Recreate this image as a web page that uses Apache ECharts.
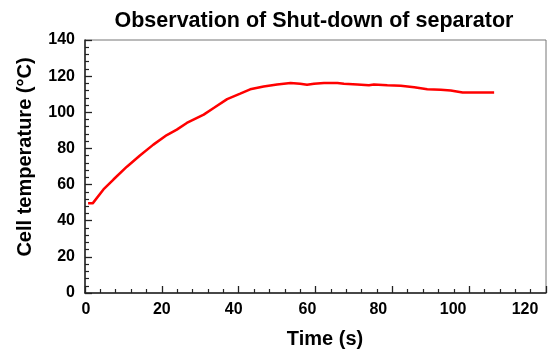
<!DOCTYPE html>
<html>
<head>
<meta charset="utf-8">
<script src="https://cdn.jsdelivr.net/npm/echarts@6/dist/echarts.min.js"></script>
<style>
  html, body { margin: 0; padding: 0; background: #fff; }
  #chart { width: 551px; height: 354px; }
</style>
</head>
<body>
<div id="chart"></div>
<script>
// Cell temperature during the separator shut-down test
const timeSec = [0.8, 2, 4.8, 7.4, 10.9, 14.3, 17.8, 21.3, 23.9, 26.5, 30.9, 33.5, 37, 40.4, 43, 46.5,
  50, 53.5, 56, 57.8, 59.6, 62.2, 65.7, 67.4, 70.9, 73.9, 75.2, 78.7, 82.2, 85.7, 89.1, 92.6, 95.2,
  98.3, 101.3, 106.5];
const cellTemp = [49.6, 49.6, 57.3, 62.8, 69.9, 76.1, 82.1, 87.4, 90.4, 94.1, 98.7, 102.4, 107.3, 110.3,
  112.7, 114.3, 115.4, 116.2, 115.8, 115.2, 115.8, 116.2, 116.2, 115.8, 115.4, 115.0, 115.4, 115.0,
  114.7, 113.9, 112.8, 112.5, 112.1, 111.0, 111.0, 111.0];
const xTicks = [0, 20, 40, 60, 80, 100, 120];
const yTicks = [0, 20, 40, 60, 80, 100, 120, 140];

// horizontal nudge (px, negative = left) for each time label
const xLabelNudge = { 0: 1, 20: 0, 40: -5, 60: -8, 80: -14, 100: -16, 120: -21 };

const FONT = '"Liberation Sans", Arial, Helvetica, sans-serif';
const labelRich = {};
xTicks.forEach(v => {
  const d = xLabelNudge[v] || 0;
  labelRich['t' + v] = {
    fontFamily: FONT, fontSize: 16, fontWeight: 'bold', color: '#000',
    padding: d < 0 ? [0, -2 * d, 0, 0] : [0, 0, 0, 2 * d]
  };
});

const chart = echarts.init(document.getElementById('chart'), null, { renderer: 'canvas' });
chart.setOption({
  backgroundColor: '#fff',
  animation: false,
  title: {
    text: 'Observation of Shut-down of separator',
    left: 309,
    top: 5,
    textAlign: 'center',
    textStyle: { fontFamily: FONT, fontSize: 21.5, fontWeight: 'bold', color: '#000' }
  },
  grid: {
    left: 85, top: 40, right: 5, bottom: 60,
    show: true, borderColor: '#777', borderWidth: 1
  },
  xAxis: {
    type: 'value',
    min: xTicks[0], max: xTicks[xTicks.length - 1], interval: 20,
    name: 'Time (s)',
    nameLocation: 'middle',
    nameGap: 36,
    nameTextStyle: { fontFamily: FONT, fontSize: 20, fontWeight: 'bold', color: '#000', padding: [0, 0, 0, 19] },
    axisLine: { onZero: false, lineStyle: { color: '#222', width: 1.5 } },
    axisTick: { inside: true, length: 7, lineStyle: { color: '#222', width: 1.3 } },
    minorTick: { show: true, splitNumber: 5, length: 4, lineStyle: { color: '#222', width: 1.2 } },
    splitLine: { show: false },
    axisLabel: {
      margin: 9,
      formatter: v => '{t' + v + '|' + v + '}',
      rich: labelRich
    }
  },
  yAxis: {
    type: 'value',
    min: yTicks[0], max: yTicks[yTicks.length - 1], interval: 20,
    name: 'Cell temperature (°C)',
    nameLocation: 'middle',
    nameGap: 50,
    nameTextStyle: { fontFamily: FONT, fontSize: 20, fontWeight: 'bold', color: '#000', padding: [0, 0, 0, 19] },
    axisLine: { onZero: false, lineStyle: { color: '#222', width: 1.5 } },
    axisTick: { inside: true, length: 7, lineStyle: { color: '#222', width: 1.3 } },
    minorTick: { show: true, splitNumber: 5, length: 4, lineStyle: { color: '#222', width: 1.2 } },
    splitLine: { show: false },
    axisLabel: { margin: 10, fontFamily: FONT, fontSize: 16, fontWeight: 'bold', color: '#000' }
  },
  series: [{
    type: 'line',
    data: timeSec.map((t, i) => [t, cellTemp[i]]),
    showSymbol: false,
    smooth: false,
    lineStyle: { color: '#ff0000', width: 2.5 },
    itemStyle: { color: '#ff0000' }
  }]
});
</script>
</body>
</html>
